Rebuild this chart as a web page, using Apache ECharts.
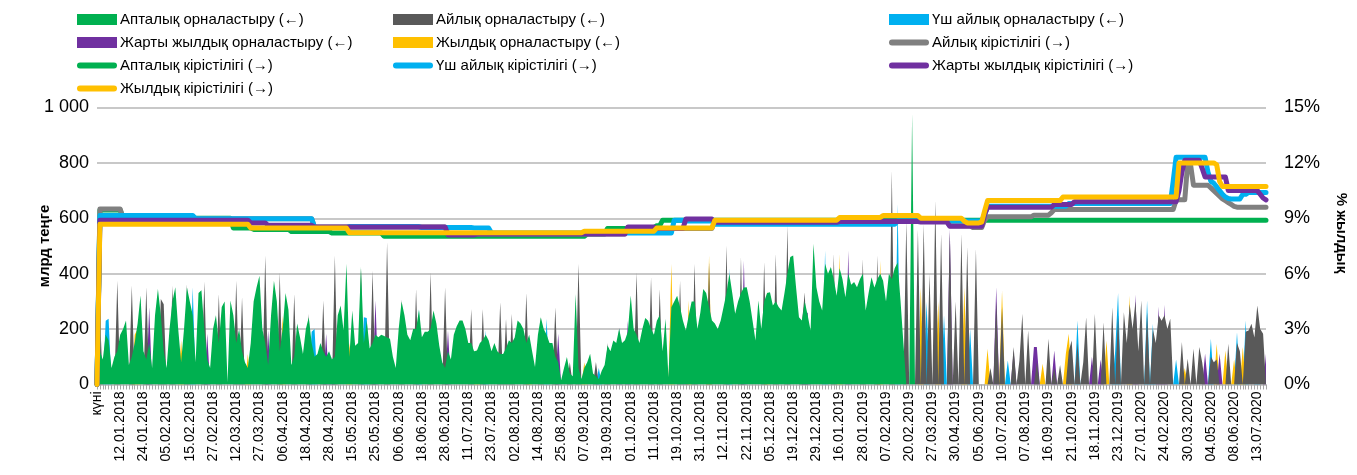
<!DOCTYPE html>
<html>
<head>
<meta charset="utf-8">
<script src="https://cdn.jsdelivr.net/npm/echarts@6/dist/echarts.min.js"></script>
<style>
  html, body { margin: 0; padding: 0; background: #fff; }
  #chart { width: 1357px; height: 475px; }
</style>
</head>
<body>
<div id="chart"></div>
<script>
// tick labels, one per 8 trading sessions (first one is the header cell)
var tickLabels = ['күні', '12.01.2018', '24.01.2018', '05.02.2018', '15.02.2018', '27.02.2018', '12.03.2018',
  '27.03.2018', '06.04.2018', '18.04.2018', '28.04.2018', '15.05.2018', '25.05.2018', '06.06.2018',
  '18.06.2018', '28.06.2018', '11.07.2018', '23.07.2018', '02.08.2018', '14.08.2018', '25.08.2018',
  '07.09.2018', '19.09.2018', '01.10.2018', '11.10.2018', '19.10.2018', '31.10.2018', '12.11.2018',
  '22.11.2018', '05.12.2018', '19.12.2018', '29.12.2018', '16.01.2019', '28.01.2019', '07.02.2019',
  '20.02.2019', '27.03.2019', '30.04.2019', '05.06.2019', '10.07.2019', '07.08.2019', '16.09.2019',
  '21.10.2019', '18.11.2019', '23.12.2019', '27.01.2020', '24.02.2020', '30.03.2020', '04.05.2020',
  '08.06.2020', '13.07.2020'];

// орналастыру, млрд теңге (left axis) - each row = 8 sessions
var ornWeek = [
  0,120,90,180,160,60,100,120,   180,200,231,70,100,150,220,321,
  120,90,150,60,250,345,250,120, 60,200,300,351,200,80,200,351,
  300,250,80,330,340,200,90,60,  200,250,150,280,300,8,303,250,
  150,200,120,80,60,150,300,350, 393,200,150,70,250,375,300,120,
  200,330,270,70,100,220,170,110, 200,243,150,100,110,150,120,100,
  120,90,100,250,285,195,436,100, 267,140,150,424,150,230,130,150,
  180,171,180,175,170,165,100,60, 200,300,250,180,160,200,200,270,
  171,190,190,200,267,220,140,80, 60,120,90,180,210,231,231,200,
  150,150,120,123,150,160,180,160, 120,150,120,110,110,130,160,150,
  170,231,220,200,150,180,120,63, 180,243,200,180,150,150,100,80,
  15,60,99,40,30,327,60,20,      60,80,111,40,30,20,50,70,
  141,120,159,150,201,150,160,190, 321,200,180,150,200,240,230,200,
  180,230,250,120,237,26,279,300, 320,280,230,195,250,300,300,200,
  260,345,330,280,231,220,200,230, 280,330,400,330,255,300,330,350,
  351,300,230,159,303,200,300,330, 333,285,300,280,267,330,400,460,
  466,350,243,231,300,250,195,508, 351,300,267,436,400,424,380,320,
  420,380,315,400,360,370,351,380, 400,267,330,387,350,380,400,375,
  300,400,380,420,440,303,150,0, 0,977,0,0,0,0,0,0,
  0,0,0,0,0,0,0,0, 0,0,0,0,0,0,0,0,
  0,0,0,0,0,0,0,0, 0,0,0,0,0,0,0,0,
  0,0,0,0,0,0,0,0, 0,0,0,0,0,0,0,0,
  0,0,0,0,0,0,0,0, 0,0,0,0,0,0,0,0,
  0,0,0,0,0,0,0,0, 0,0,0,0,0,0,0,0,
  0,0,0,0,0,0,0,0, 0,0,0,0,0,0,0,0,
  0,0,0,0,0,0,0,0, 0,0,0,0,0,0,0,0,
  0,0,0,0
];
var ornMonth = [
  0,260,0,0,0,0,0,375,   0,0,0,0,357,0,0,0,
  0,351,0,0,0,0,309,290, 0,0,357,0,0,0,0,363,
  0,0,0,0,0,372,0,0,     0,0,327,0,0,0,0,0,
  375,0,315,0,0,0,0,0,   0,0,466,0,0,0,0,405,
  0,0,0,0,327,0,0,0,     0,255,0,0,0,0,303,0,
  0,0,466,0,0,0,0,0,     0,0,0,420,0,0,0,412,
  0,0,0,0,514,0,0,0,     0,309,0,0,0,0,345,0,
  0,0,0,405,0,0,0,0,     351,0,0,0,0,0,0,0,
  0,273,0,0,0,273,0,0,   0,0,0,297,0,237,0,255,
  0,0,0,0,330,0,0,0,     0,243,0,0,0,0,279,0,
  0,0,0,80,0,0,436,0,    0,0,0,0,81,0,0,0,
  150,0,0,0,0,0,0,0,     0,0,405,0,0,0,0,387,
  0,0,345,0,0,0,0,0,     0,375,0,0,0,0,436,0,
  0,0,0,440,0,0,0,0,     0,502,0,0,0,0,460,0,
  0,0,0,0,0,0,442,0,     0,0,472,0,0,0,574,0,
  0,0,0,220,333,0,0,0,   0,0,0,0,0,0,472,0,
  0,0,0,0,0,0,0,0,       454,0,0,0,0,466,0,0,
  0,0,773,0,0,0,0,592,   0,0,0,560,0,580,0,400,
  0,664,0,544,0,0,550,0, 300,0,544,0,496,0,0,490,
  0,0,0,0,60,0,300,0,    280,0,0,0,135,0,87,255,
  0,195,0,0,80,0,0,0,    165,0,60,0,70,0,0,120,
  159,0,150,0,80,243,0,0, 255,0,0,225,0,0,279,0,
  250,0,261,150,290,200,300,120, 303,0,260,0,200,150,250,230,
  250,200,237,0,0,0,153,0, 93,0,129,0,135,80,0,0,
  100,80,90,0,0,0,147,0, 0,150,120,0,190,195,219,170,
  285,200,183,0
];
var orn3m = [
  0,0,0,230,237,0,0,0,   0,0,0,0,0,0,0,0,
  0,0,0,0,0,0,0,0,       0,0,0,0,0,0,0,0,
  0,351,0,0,0,0,0,0,     0,0,0,0,0,0,0,0,
  0,0,0,0,0,0,0,0,       0,0,0,0,0,0,0,0,
  0,0,0,0,0,0,0,0,       0,0,190,200,0,0,0,0,
  0,0,0,0,0,0,0,0,       0,0,0,0,243,240,0,0,
  0,0,0,0,0,0,0,0,       0,0,0,0,0,0,0,273,
  0,0,0,0,0,0,0,0,       0,0,0,0,0,0,0,0,
  0,0,0,0,0,0,195,0,     0,0,0,0,0,0,0,0,
  0,0,0,0,0,0,0,0,       0,0,0,237,0,0,0,0,
  0,0,0,0,0,0,0,0,       0,0,0,0,0,60,0,0,
  0,0,0,0,0,0,0,0,       0,0,0,0,0,0,0,0,
  0,0,0,0,0,0,0,0,       0,0,0,0,0,0,0,0,
  0,0,0,0,0,0,0,0,       0,0,420,0,0,0,0,0,
  0,0,0,0,0,0,0,0,       0,0,0,0,0,0,0,0,
  0,0,0,0,0,0,0,0,       0,0,0,484,0,0,0,0,
  0,0,0,0,0,0,0,0,       0,0,0,0,0,0,0,0,
  0,0,0,0,652,0,0,0,     0,0,0,0,0,0,300,0,
  0,0,0,0,250,0,0,0,     0,0,0,0,0,200,0,0,
  0,0,0,0,0,0,0,0,       0,0,87,0,0,0,0,0,
  0,0,0,0,0,0,0,0,       0,0,0,0,0,0,0,0,
  0,0,231,0,0,0,0,0,     0,0,0,0,0,0,0,120,
  330,0,0,0,0,0,0,0,     0,0,303,0,219,0,0,0,
  0,0,0,0,90,0,0,0,      0,0,0,0,0,0,0,0,
  165,0,0,0,0,0,0,0,     0,189,0,0,231,0,0,0,
  200,0,0,0
];
var orn6m = [
  0,0,0,0,0,0,0,0,       0,0,0,0,0,0,0,0,
  0,0,279,0,0,0,0,0,     0,0,0,0,0,0,0,0,
  0,0,0,0,0,0,183,0,     0,0,0,0,0,0,0,0,
  0,0,0,0,0,0,0,0,       0,0,0,195,0,0,0,0,
  0,0,0,0,0,0,0,0,       0,0,0,0,0,0,0,183,
  0,100,0,0,0,0,0,0,     0,0,0,0,0,0,0,0,
  303,0,0,0,0,0,0,0,     0,0,0,0,0,0,0,0,
  0,0,0,0,0,0,0,0,       0,195,0,0,0,0,0,0,
  0,0,0,0,0,0,0,0,       0,0,0,0,0,0,0,0,
  0,0,0,0,0,0,0,0,       0,0,0,0,0,0,0,183,
  0,0,0,0,0,0,0,0,       0,0,0,0,0,0,0,0,
  0,0,0,0,207,0,0,230,   0,0,0,0,0,0,0,0,
  0,0,0,0,0,0,0,0,       0,0,0,200,0,0,0,0,
  0,0,0,0,0,0,0,0,       0,0,0,0,0,0,0,448,
  0,0,0,0,0,0,0,0,       0,0,0,0,0,0,0,0,
  0,0,0,0,250,260,0,0,   0,0,0,0,0,0,0,0,
  0,0,0,484,0,0,0,0,     0,0,0,0,0,0,0,0,
  0,0,0,0,0,0,0,0,       0,0,0,0,0,0,0,0,
  0,0,0,0,0,0,562,0,     0,0,0,0,0,0,0,0,
  0,0,0,0,0,0,351,0,     0,0,0,0,120,0,0,0,
  0,0,0,135,135,0,0,0,   0,0,123,0,0,0,0,0,
  0,0,0,0,0,0,0,100,     0,0,90,0,0,0,0,0,
  0,0,0,0,0,0,325,0,     0,0,0,0,0,0,282,0,
  288,0,0,0,0,0,0,0,     0,0,0,0,0,0,111,0,
  0,0,0,111,0,0,0,0,     0,0,0,0,0,0,0,0,
  0,0,0,111
];
var orn12m = [
  0,0,0,0,0,0,0,0,       0,0,0,0,0,180,200,0,
  0,0,0,0,0,0,0,0,       0,0,0,0,0,160,0,0,
  0,0,0,0,0,0,0,0,       0,0,0,0,0,0,0,0,
  0,0,0,0,110,0,0,0,     0,0,0,0,0,0,0,0,
  249,0,0,0,0,0,0,0,     0,0,0,0,0,0,0,0,
  0,0,0,0,0,0,0,150,     0,0,0,0,0,0,0,0,
  0,0,0,0,0,0,0,0,       0,0,0,0,0,0,0,0,
  0,0,0,0,0,0,0,0,       0,0,0,0,0,0,0,0,
  0,0,0,130,0,0,0,0,     0,0,0,0,0,0,0,0,
  0,0,0,0,0,160,0,0,     0,0,0,0,0,0,0,0,
  0,0,0,0,0,0,0,0,       80,0,0,0,0,0,0,0,
  0,0,0,0,0,0,0,0,       0,0,0,0,0,0,0,0,
  0,0,0,0,0,0,436,0,     0,0,0,0,303,0,0,0,
  0,0,0,466,0,0,0,0,     0,0,0,0,0,0,0,0,
  0,0,0,0,0,0,0,340,     0,0,0,0,0,0,0,0,
  0,0,0,0,0,0,0,0,       0,0,0,0,0,0,0,0,
  472,0,0,0,0,0,0,0,     0,0,0,0,0,0,448,0,
  0,0,0,0,0,0,0,0,       0,0,0,0,350,0,0,0,
  0,0,300,0,0,0,0,0,     0,0,0,350,0,0,0,0,
  0,0,0,129,0,0,0,0,     339,0,0,0,0,0,0,0,
  0,0,0,0,0,0,75,0,      0,0,0,0,0,0,111,183,
  0,0,0,0,0,0,0,0,       0,0,0,0,159,0,0,0,
  0,0,0,0,321,0,0,0,     0,0,0,0,0,0,0,0,
  0,0,0,0,0,0,0,60,      0,0,0,0,0,0,0,0,
  0,0,147,0,0,123,0,0,   90,0,0,135,0,0,0,0,
  0,0,0,0
];

// кірістілік, % жылдық (right axis)
var yldWeek = [
  0,9.45,9.45,9.45,9.45,9.45,9.45,9.45, 9.45,9,9,9,9,9,9,9,
  9,9,9,9,9,9,9,9, 9,9,9,9,9,9,9,9,
  9,9,9,9,9,9,9,9, 9,9,9,9,9,9,9,8.48,
  8.48,8.48,8.48,8.48,8.48,8.48,8.4,8.4, 8.4,8.4,8.4,8.4,8.4,8.4,8.4,8.4,
  8.4,8.4,8.4,8.28,8.28,8.28,8.28,8.28, 8.28,8.28,8.28,8.28,8.28,8.28,8.28,8.28,
  8.28,8.2,8.2,8.2,8.2,8.2,8.2,8.2, 8.2,8.2,8.2,8.2,8.2,8.2,8.2,8.2,
  8.2,8.2,8.2,8.03,8.03,8.03,8.03,8.03, 8.03,8.03,8.03,8.03,8.03,8.03,8.03,8.03,
  8.03,8.03,8.03,8.03,8.03,8.03,8.03,8.03, 8.03,8.03,8.03,8.03,8.03,8.03,8.03,8.03,
  8.03,8.03,8.03,8.03,8.03,8.03,8.03,8.03, 8.03,8.03,8.03,8.03,8.03,8.03,8.03,8.03,
  8.03,8.03,8.03,8.03,8.03,8.03,8.03,8.03, 8.03,8.03,8.03,8.03,8.03,8.03,8.03,8.03,
  8.03,8.03,8.03,8.03,8.03,8.03,8.03,8.03, 8.03,8.15,8.15,8.15,8.15,8.15,8.15,8.15,
  8.45,8.45,8.45,8.45,8.45,8.45,8.45,8.45, 8.5,8.5,8.5,8.5,8.5,8.5,8.5,8.5,
  8.5,8.6,8.6,8.9,8.9,8.9,8.9,8.9, 8.9,8.9,8.9,8.9,8.9,8.9,8.9,8.9,
  8.9,8.9,8.9,8.9,8.9,8.9,8.9,8.9, 8.9,8.9,8.9,8.9,8.9,8.9,8.9,8.9,
  8.9,8.9,8.9,8.9,8.9,8.9,8.9,8.9, 8.9,8.9,8.9,8.9,8.9,8.9,8.9,8.9,
  8.9,8.9,8.9,8.9,8.9,8.9,8.9,8.9, 8.9,8.9,8.9,8.9,8.9,8.9,8.9,8.9,
  8.9,8.9,8.9,8.9,8.9,8.9,8.9,8.9, 8.9,8.9,8.9,8.9,8.9,8.9,8.9,8.9,
  8.9,8.9,8.9,8.9,8.9,8.9,8.9,8.9, 8.9,8.9,8.9,8.9,8.9,8.9,8.9,8.9,
  8.9,8.9,8.9,8.9,8.9,8.9,8.9,8.9, 8.9,8.9,8.9,8.9,8.9,8.9,8.9,8.9,
  8.9,8.9,8.9,8.9,8.9,8.9,8.9,8.9, 8.9,8.9,8.9,8.9,8.9,8.9,8.9,8.9,
  8.9,8.9,8.9,8.9,8.9,8.9,8.9,8.9, 8.9,8.9,8.9,8.9,8.9,8.9,8.9,8.9,
  8.9,8.9,8.9,8.9,8.9,8.9,8.9,8.9, 8.9,8.9,8.9,8.9,8.9,8.9,8.9,8.9,
  8.9,8.9,8.9,8.9,8.9,8.9,8.9,8.9, 8.9,8.9,8.9,8.9,8.9,8.9,8.9,8.9,
  8.9,8.9,8.9,8.9,8.9,8.9,8.9,8.9, 8.9,8.9,8.9,8.9,8.9,8.9,8.9,8.9,
  8.9,8.9,8.9,8.9,8.9,8.9,8.9,8.9, 8.9,8.9,8.9,8.9,8.9,8.9,8.9,8.9,
  8.9,8.9,8.9,8.9
];
var yldMonth = [
  0,9.5,9.5,9.5,9.5,9.5,9.5,9.5, 9.5,8.98,8.98,8.98,8.98,8.98,8.98,8.98,
  8.98,8.98,8.98,8.98,8.98,8.98,8.98,8.98, 8.98,8.98,8.98,8.98,8.98,8.98,8.98,8.98,
  8.98,8.98,8.98,8.98,8.98,8.98,8.98,8.98, 8.98,8.98,8.98,8.98,8.98,8.98,8.98,8.98,
  8.98,8.98,8.98,8.98,8.98,8.98,8.98,8.98, 8.98,8.98,8.98,8.98,8.98,8.98,8.98,8.98,
  8.98,8.98,8.98,8.98,8.98,8.98,8.98,8.98, 8.98,8.98,8.98,8.53,8.53,8.53,8.53,8.53,
  8.53,8.53,8.53,8.53,8.53,8.53,8.53,8.53, 8.53,8.53,8.53,8.53,8.53,8.53,8.53,8.53,
  8.53,8.53,8.53,8.53,8.53,8.53,8.53,8.53, 8.53,8.53,8.53,8.53,8.53,8.53,8.53,8.53,
  8.53,8.53,8.53,8.53,8.53,8.53,8.53,8.53, 8.53,8.15,8.15,8.15,8.15,8.15,8.15,8.15,
  8.15,8.15,8.15,8.15,8.15,8.15,8.15,8.15, 8.15,8.15,8.15,8.15,8.15,8.15,8.15,8.15,
  8.15,8.15,8.15,8.15,8.15,8.15,8.15,8.15, 8.15,8.15,8.15,8.15,8.15,8.15,8.15,8.15,
  8.15,8.15,8.15,8.15,8.15,8.15,8.15,8.15, 8.15,8.15,8.15,8.15,8.15,8.15,8.15,8.15,
  8.15,8.15,8.15,8.15,8.15,8.15,8.15,8.5, 8.5,8.5,8.5,8.5,8.5,8.5,8.5,8.5,
  8.5,8.45,8.45,8.45,8.45,8.45,8.45,8.45, 8.45,8.45,8.45,8.45,8.45,8.45,8.45,8.45,
  8.45,8.45,8.45,8.45,8.45,8.85,8.85,8.85, 8.85,8.85,8.85,8.85,8.85,8.85,8.85,8.85,
  8.85,8.85,8.85,8.85,8.85,8.85,8.85,8.85, 8.85,8.85,8.85,8.85,8.85,8.85,8.85,8.85,
  8.85,8.85,8.85,8.85,8.85,8.85,8.85,8.85, 8.85,8.85,8.85,8.85,8.85,8.85,8.85,8.85,
  8.85,8.85,8.85,8.85,8.85,8.85,8.85,8.85, 8.85,8.85,8.85,8.85,8.85,8.85,8.85,8.85,
  8.85,8.85,8.85,8.85,8.85,8.85,8.85,8.85, 8.85,8.85,8.85,8.85,8.85,8.85,8.85,8.85,
  8.85,8.85,8.85,8.85,8.85,8.85,8.6,8.6, 8.6,8.6,8.6,8.6,8.6,8.6,8.5,8.5,
  8.5,8.5,8.9,9.08,9.08,9.08,9.08,9.08, 9.08,9.08,9.08,9.08,9.08,9.08,9.08,9.08,
  9.08,9.08,9.08,9.17,9.17,9.17,9.17,9.17, 9.17,9.3,9.47,9.47,9.47,9.47,9.47,9.47,
  9.47,9.47,9.47,9.47,9.47,9.47,9.47,9.47, 9.47,9.47,9.47,9.47,9.47,9.47,9.47,9.47,
  9.47,9.47,9.47,9.47,9.47,9.47,9.47,9.47, 9.47,9.47,9.47,9.47,9.47,9.47,9.47,9.47,
  9.47,9.47,9.47,9.47,9.98,10,10,10, 12,11.9,10.79,10.79,10.79,10.79,10.79,10.79,
  10.65,10.5,10.35,10.2,10.05,9.95,9.85,9.75, 9.65,9.6,9.6,9.6,9.6,9.6,9.6,9.6,
  9.6,9.6,9.6,9.6
];
var yld3m = [
  0,9.15,9.15,9.15,9.15,9.15,9.15,9.15, 9.15,9.15,9.15,9.15,9.15,9.15,9.15,9.15,
  9.15,9.15,9.15,9.15,9.15,9.15,9.15,9.15, 9.15,9.15,9.15,9.15,9.15,9.15,9.15,9.15,
  9.15,9.15,8.98,8.98,8.98,8.98,8.98,8.98, 8.98,8.98,8.98,8.98,8.98,8.98,8.98,8.98,
  8.98,8.98,8.98,8.98,8.98,8.98,8.98,8.98, 8.98,8.98,8.98,8.98,8.98,8.98,8.98,8.98,
  8.98,8.98,8.98,8.98,8.98,8.98,8.98,8.98, 8.98,8.98,8.98,8.5,8.5,8.5,8.5,8.5,
  8.5,8.5,8.5,8.5,8.5,8.5,8.5,8.55, 8.55,8.55,8.55,8.55,8.55,8.55,8.55,8.55,
  8.55,8.55,8.55,8.55,8.55,8.55,8.55,8.55, 8.55,8.55,8.55,8.55,8.55,8.55,8.55,8.55,
  8.5,8.5,8.5,8.5,8.5,8.5,8.5,8.5, 8.5,8.5,8.5,8.5,8.5,8.5,8.5,8.5,
  8.5,8.5,8.48,8.48,8.48,8.48,8.48,8.48, 8.2,8.2,8.2,8.2,8.2,8.2,8.2,8.2,
  8.2,8.2,8.2,8.2,8.2,8.2,8.2,8.2, 8.2,8.2,8.2,8.2,8.2,8.2,8.2,8.2,
  8.2,8.2,8.2,8.2,8.2,8.2,8.2,8.2, 8.2,8.2,8.2,8.2,8.2,8.2,8.2,8.2,
  8.2,8.2,8.2,8.2,8.2,8.2,8.2,8.2, 8.2,8.2,8.2,8.2,8.2,8.2,8.2,8.2,
  8.2,8.2,8.2,8.2,8.2,8.2,8.2,8.9, 8.9,8.9,8.9,8.85,8.85,8.85,8.85,8.85,
  8.85,8.85,8.85,8.85,8.85,8.68,8.68,8.68, 8.68,8.68,8.68,8.68,8.68,8.68,8.68,8.68,
  8.68,8.68,8.68,8.68,8.68,8.68,8.68,8.68, 8.68,8.68,8.68,8.68,8.68,8.68,8.68,8.68,
  8.68,8.68,8.68,8.68,8.68,8.68,8.68,8.68, 8.68,8.68,8.68,8.68,8.68,8.68,8.68,8.68,
  8.68,8.68,8.68,8.68,8.68,8.68,8.68,8.68, 8.68,8.68,8.68,8.68,8.68,8.68,8.68,8.68,
  8.68,8.68,8.68,8.68,8.85,8.85,8.85,8.85, 8.85,8.85,8.85,8.85,8.85,8.85,8.85,8.85,
  8.85,8.85,8.85,8.85,8.85,8.85,8.85,8.85, 8.85,8.85,8.85,8.85,8.85,8.85,8.85,8.85,
  8.85,8.85,9.2,9.65,9.65,9.65,9.65,9.65, 9.65,9.65,9.65,9.65,9.65,9.65,9.65,9.65,
  9.65,9.65,9.65,9.65,9.65,9.65,9.65,9.65, 9.65,9.65,9.65,9.65,9.65,9.65,9.65,9.8,
  9.8,9.8,9.8,9.8,9.8,9.8,9.8,9.8, 9.8,9.8,9.8,9.8,9.8,9.8,9.8,9.8,
  9.8,9.8,9.8,9.8,9.8,9.8,9.8,9.8, 9.8,9.8,9.8,9.8,9.8,9.8,9.8,9.8,
  9.8,9.8,9.8,11,12.3,12.3,12.3,12.3, 12.3,12.3,12.3,12.3,12.3,12.3,12.3,11.5,
  11,10.9,10.7,10.5,10.3,10.15,10.07,10.05, 10.05,10.05,10.05,10.3,10.3,10.4,10.4,10.4,
  10.4,10.4,10.4,10.4
];
var yld6m = [
  0,8.9,8.9,8.9,8.9,8.9,8.9,8.9, 8.9,8.9,8.9,8.9,8.9,8.9,8.9,8.9,
  8.9,8.9,8.9,8.9,8.9,8.9,8.9,8.9, 8.9,8.9,8.9,8.9,8.9,8.9,8.9,8.9,
  8.9,8.9,8.9,8.9,8.9,8.9,8.9,8.9, 8.9,8.9,8.9,8.9,8.9,8.9,8.9,8.9,
  8.9,8.9,8.9,8.9,8.9,8.75,8.75,8.75, 8.75,8.75,8.75,8.62,8.62,8.62,8.62,8.62,
  8.62,8.62,8.62,8.62,8.62,8.62,8.62,8.62, 8.62,8.62,8.62,8.53,8.53,8.53,8.53,8.53,
  8.53,8.53,8.53,8.53,8.53,8.53,8.53,8.53, 8.53,8.53,8.53,8.53,8.53,8.53,8.53,8.53,
  8.53,8.53,8.53,8.53,8.53,8.53,8.53,8.53, 8.53,8.53,8.53,8.53,8.53,8.53,8.53,8.53,
  8.53,8.53,8.53,8.53,8.53,8.53,8.53,8.53, 8.53,8.1,8.1,8.1,8.1,8.1,8.1,8.1,
  8.1,8.1,8.1,8.15,8.15,8.15,8.15,8.15, 8.15,8.15,8.15,8.15,8.15,8.15,8.15,8.15,
  8.15,8.15,8.15,8.15,8.15,8.15,8.15,8.15, 8.15,8.15,8.15,8.15,8.15,8.15,8.15,8.15,
  8.15,8.15,8.15,8.15,8.15,8.15,8.15,8.15, 8.15,8.15,8.15,8.15,8.15,8.15,8.15,8.15,
  8.15,8.15,8.15,8.15,8.15,8.15,8.15,8.53, 8.53,8.53,8.53,8.53,8.53,8.53,8.53,8.53,
  8.53,8.45,8.45,8.45,8.45,8.45,8.45,8.45, 8.45,8.45,8.45,8.96,8.96,8.96,8.96,8.96,
  8.96,8.96,8.96,8.96,8.96,8.78,8.78,8.78, 8.78,8.78,8.78,8.78,8.78,8.78,8.78,8.78,
  8.78,8.78,8.78,8.78,8.78,8.78,8.78,8.78, 8.78,8.78,8.78,8.78,8.78,8.78,8.78,8.78,
  8.78,8.78,8.78,8.78,8.78,8.78,8.78,8.78, 8.78,8.78,8.78,8.78,8.78,8.78,8.78,8.78,
  8.82,8.82,8.82,8.82,8.82,8.82,8.82,8.82, 8.82,8.82,8.82,8.82,8.82,8.82,8.82,8.82,
  8.82,8.82,8.82,8.82,8.82,8.82,8.82,8.82, 8.82,8.82,8.82,8.82,8.8,8.8,8.8,8.8,
  8.8,8.8,8.8,8.8,8.8,8.8,8.57,8.57, 8.57,8.57,8.57,8.57,8.57,8.57,8.57,8.57,
  8.57,8.57,9.2,9.6,9.6,9.6,9.6,9.6, 9.6,9.6,9.6,9.6,9.6,9.6,9.6,9.6,
  9.6,9.6,9.6,9.6,9.6,9.6,9.6,9.6, 9.6,9.6,9.75,9.75,9.75,9.75,9.75,9.75,
  9.75,9.9,9.9,9.9,9.9,9.9,9.9,9.9, 9.9,9.9,9.9,9.9,9.9,9.9,9.9,9.9,
  9.9,9.9,9.9,9.9,9.9,9.9,9.9,9.9, 9.9,9.9,9.9,9.9,9.9,9.9,9.9,9.9,
  9.9,9.9,9.9,9.9,9.9,10.5,11.5,12.14, 12.14,12.14,12.14,12.14,12.14,11.7,11.24,11.24,
  11.24,11.24,11.24,11.24,11.24,11.24,10.5,10.5, 10.5,10.5,10.5,10.5,10.5,10.5,10.5,10.5,
  10.5,10.3,10.1,10
];
var yld12m = [
  0,8.68,8.68,8.68,8.68,8.68,8.68,8.68, 8.68,8.68,8.68,8.68,8.68,8.68,8.68,8.68,
  8.68,8.68,8.68,8.68,8.68,8.68,8.68,8.68, 8.68,8.68,8.68,8.68,8.68,8.68,8.68,8.68,
  8.68,8.68,8.68,8.68,8.68,8.68,8.68,8.68, 8.68,8.68,8.68,8.68,8.68,8.68,8.68,8.68,
  8.68,8.68,8.68,8.68,8.68,8.47,8.47,8.47, 8.47,8.47,8.47,8.47,8.47,8.47,8.47,8.47,
  8.47,8.47,8.47,8.47,8.47,8.47,8.47,8.47, 8.47,8.47,8.47,8.47,8.47,8.47,8.47,8.47,
  8.47,8.47,8.47,8.47,8.47,8.47,8.47,8.22, 8.22,8.22,8.22,8.22,8.22,8.22,8.22,8.22,
  8.22,8.22,8.22,8.22,8.22,8.22,8.22,8.22, 8.22,8.22,8.22,8.22,8.22,8.22,8.22,8.22,
  8.22,8.22,8.22,8.22,8.22,8.22,8.22,8.22, 8.22,8.22,8.22,8.22,8.22,8.22,8.22,8.22,
  8.22,8.22,8.22,8.22,8.22,8.22,8.22,8.22, 8.22,8.22,8.22,8.22,8.22,8.22,8.22,8.22,
  8.22,8.22,8.22,8.22,8.22,8.22,8.22,8.22, 8.22,8.22,8.22,8.22,8.22,8.22,8.22,8.22,
  8.22,8.22,8.22,8.22,8.22,8.22,8.22,8.22, 8.3,8.3,8.3,8.3,8.3,8.3,8.3,8.3,
  8.3,8.3,8.3,8.3,8.3,8.3,8.3,8.3, 8.3,8.3,8.3,8.3,8.3,8.3,8.3,8.3,
  8.3,8.48,8.48,8.48,8.48,8.48,8.48,8.48, 8.48,8.48,8.48,8.48,8.48,8.48,8.48,8.48,
  8.48,8.48,8.48,8.48,8.48,8.9,8.9,8.9, 8.9,8.9,8.9,8.9,8.9,8.9,8.9,8.9,
  8.9,8.9,8.9,8.9,8.9,8.9,8.9,8.9, 8.9,8.9,8.9,8.9,8.9,8.9,8.9,8.9,
  8.9,8.9,8.9,8.9,8.9,8.9,8.9,8.9, 8.9,8.9,8.9,8.9,8.9,8.9,8.9,8.9,
  9.04,9.04,9.04,9.04,9.04,9.04,9.04,9.04, 9.04,9.04,9.04,9.04,9.04,9.04,9.04,9.15,
  9.15,9.15,9.15,9.15,9.15,9.15,9.15,9.15, 9.15,9.15,9.15,9.15,9,9,9,9,
  9,9,9,9,9,9,9,9, 9,9,9,8.85,8.75,8.75,8.75,8.75,
  8.75,8.8,9.4,9.96,9.96,9.96,9.96,9.96, 9.96,9.96,9.96,9.96,9.96,9.96,9.96,9.96,
  9.96,9.96,9.96,9.96,9.96,9.96,9.96,9.96, 9.96,9.96,9.96,9.96,9.96,10.15,10.15,10.15,
  10.15,10.15,10.15,10.15,10.15,10.15,10.15,10.15, 10.15,10.15,10.15,10.15,10.15,10.15,10.15,10.15,
  10.15,10.15,10.15,10.15,10.15,10.15,10.15,10.15, 10.15,10.15,10.15,10.15,10.15,10.15,10.15,10.15,
  10.15,10.15,10.15,10.15,10.15,12,12,12, 12,12,12,12,12,12,12,12,
  12,12,11.9,11,10.72,10.72,10.72,10.72, 10.72,10.72,10.72,10.72,10.72,10.72,10.72,10.72,
  10.72,10.72,10.72,10.72
];

var sessions = ornWeek.map(function (v, i) {
  return i % 8 === 0 ? tickLabels[i / 8] : 'd' + i;
});

var nameWeekA = 'Апталық орналастыру (←)';
var nameMonthA = 'Айлық орналастыру (←)';
var name3mA = 'Үш айлық орналастыру (←)';
var name6mA = 'Жарты жылдық орналастыру (←)';
var name12mA = 'Жылдық орналастыру (←)';
var nameMonthL = 'Айлық кірістілігі (→)';
var nameWeekL = 'Апталық кірістілігі (→)';
var name3mL = 'Үш айлық кірістілігі (→)';
var name6mL = 'Жарты жылдық кірістілігі (→)';
var name12mL = 'Жылдық кірістілігі (→)';

var cGreen = '#00B050', cDark = '#595959', cBlue = '#00B0F0', cPurple = '#7030A0', cYellow = '#FFC000', cGrey = '#808080';
var fReg = '"Liberation Sans", Arial, sans-serif';
var lineIcon = 'path://M3,0 L37,0 A3,3 0 0 1 37,6 L3,6 A3,3 0 0 1 3,0 Z';

function areaSeries(name, data, color) {
  return {
    name: name, type: 'line', yAxisIndex: 0, data: data,
    symbol: 'none', lineStyle: { width: 0 }, color: color,
    areaStyle: { color: color, opacity: 1 }, z: 2
  };
}
function yieldSeries(name, data, color) {
  return {
    name: name, type: 'line', yAxisIndex: 1, data: data,
    symbol: 'none', color: color, z: 3,
    lineStyle: { width: 5, color: color, cap: 'round', join: 'round' }
  };
}
function legendCol(left, items) {
  return {
    orient: 'vertical', left: left, top: 3, itemGap: 0,
    itemWidth: 40, itemHeight: 11, selectedMode: false,
    textStyle: { fontFamily: fReg, fontSize: 15, color: '#000', lineHeight: 23, padding: [0, 0, 0, -2] },
    data: items
  };
}

var myChart = echarts.init(document.getElementById('chart'));
var option = {
  animation: false,
  backgroundColor: '#fff',
  legend: [
    legendCol(72, [
      { name: nameWeekA, icon: 'rect' }, { name: name6mA, icon: 'rect' },
      { name: nameWeekL, icon: lineIcon }, { name: name12mL, icon: lineIcon }]),
    legendCol(388, [
      { name: nameMonthA, icon: 'rect' }, { name: name12mA, icon: 'rect' },
      { name: name3mL, icon: lineIcon }]),
    legendCol(884, [
      { name: name3mA, icon: 'rect' }, { name: nameMonthL, icon: lineIcon },
      { name: name6mL, icon: lineIcon }])
  ],
  grid: { left: 97, right: 87, top: 107.5, bottom: 90.5 },
  xAxis: {
    type: 'category', data: sessions, boundaryGap: false,
    axisLine: { lineStyle: { color: '#BFBFBF', width: 1 } },
    axisTick: { show: true, interval: 0, length: 5, lineStyle: { color: '#A6A6A6' } },
    axisLabel: { interval: 7, rotate: 90, fontFamily: fReg, fontSize: 14, color: '#000', margin: 7 }
  },
  yAxis: [{
    type: 'value', min: 0, max: 1000, interval: 200,
    name: 'млрд теңге', nameLocation: 'middle', nameGap: 45, nameMoveOverlap: false,
    nameTextStyle: { fontFamily: fReg, fontSize: 15, fontWeight: 'bold', color: '#000' },
    axisLine: { show: false }, axisTick: { show: false },
    axisLabel: {
      fontFamily: fReg, fontSize: 18, color: '#000', margin: 8,
      formatter: function (v) { return String(v).replace(/\B(?=(\d{3})+(?!\d))/g, ' '); }
    },
    splitLine: { lineStyle: { color: '#C8C8C8', width: 2 } }
  }, {
    type: 'value', min: 0, max: 15, interval: 3, position: 'right',
    name: '% жылдық', nameLocation: 'middle', nameGap: 68, nameRotate: -90, nameMoveOverlap: false,
    nameTextStyle: { fontFamily: fReg, fontSize: 15, fontWeight: 'bold', color: '#000', padding: [0, 26, 0, 0] },
    axisLine: { show: false }, axisTick: { show: false },
    axisLabel: { fontFamily: fReg, fontSize: 18, color: '#000', margin: 18, formatter: '{value}%' },
    splitLine: { show: false }
  }],
  series: [
    areaSeries(name3mA, orn3m, cBlue),
    areaSeries(name12mA, orn12m, cYellow),
    areaSeries(name6mA, orn6m, cPurple),
    areaSeries(nameMonthA, ornMonth, cDark),
    areaSeries(nameWeekA, ornWeek, cGreen),
    yieldSeries(nameWeekL, yldWeek, cGreen),
    yieldSeries(nameMonthL, yldMonth, cGrey),
    yieldSeries(name3mL, yld3m, cBlue),
    yieldSeries(name6mL, yld6m, cPurple),
    yieldSeries(name12mL, yld12m, cYellow)
  ]
};
myChart.setOption(option);
</script>
</body>
</html>
